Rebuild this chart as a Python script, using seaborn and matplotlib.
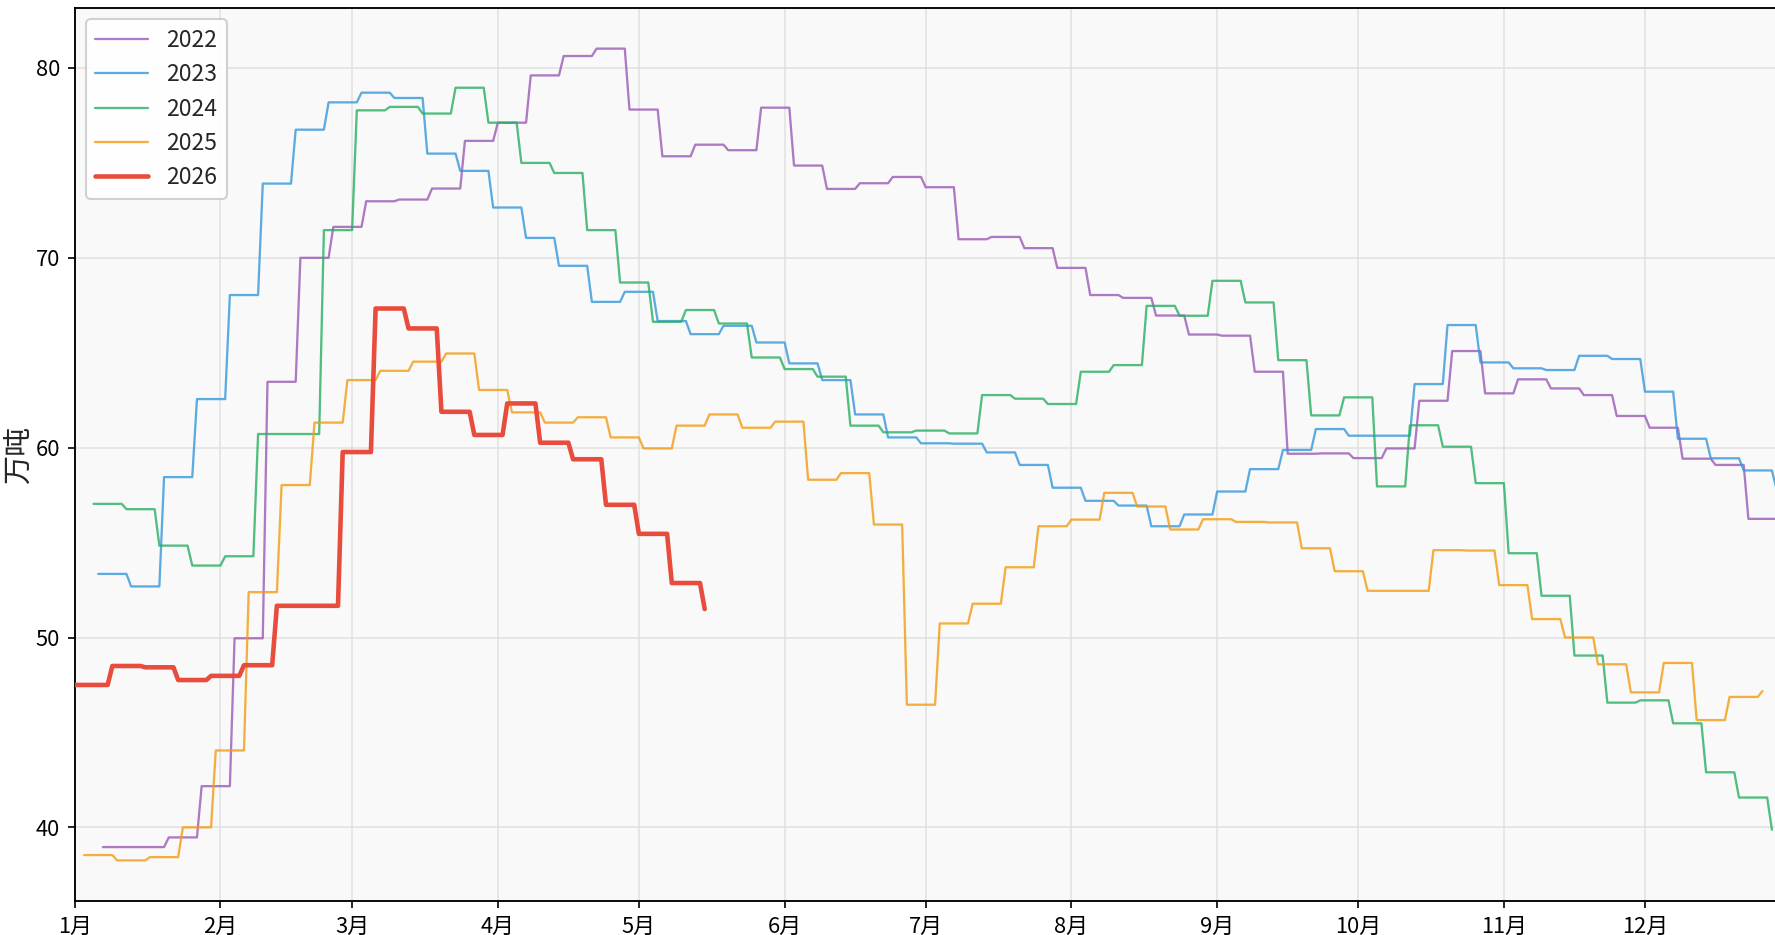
import numpy as np
import pandas as pd
import matplotlib
matplotlib.use('Agg')
import matplotlib.pyplot as plt
import matplotlib.dates as mdates
import matplotlib.ticker as mticker
import seaborn as sns

# weekly values (万吨), each year mapped onto a common calendar (2001)
years = [2022, 2023, 2024, 2025, 2026]

week_start = {2022: '2001-01-07', 2023: '2001-01-06', 2024: '2001-01-05',
              2025: '2001-01-03', 2026: '2001-01-02'}
first_day = {2026: '2001-01-01'}

v2022 = [38.96, 38.96, 39.47, 42.17, 49.96, 63.47, 70.0, 71.63, 72.98, 73.07,
         73.65, 76.16, 77.12, 79.61, 80.63, 81.02, 77.81, 75.35, 75.96, 75.67,
         77.91, 74.86, 73.63, 73.93, 74.26, 73.72, 70.98, 71.1, 70.51, 69.47,
         68.04, 67.89, 66.96, 65.96, 65.9, 64.0, 59.68, 59.7, 59.45, 59.96,
         62.47, 65.09, 62.86, 63.6, 63.12, 62.77, 61.67, 61.05, 59.42, 59.09,
         56.25, 55.0]
v2023 = [53.35, 52.69, 58.45, 62.56, 68.04, 73.91, 76.75, 78.19, 78.70, 78.42,
         75.49, 74.58, 72.65, 71.05, 69.58, 67.68, 68.21, 66.67, 65.98, 66.42,
         65.54, 64.44, 63.56, 61.75, 60.54, 60.23, 60.21, 59.75, 59.09, 57.89,
         57.2, 56.95, 55.86, 56.48, 57.69, 58.87, 59.88, 60.98, 60.63, 60.63,
         63.35, 66.46, 64.49, 64.18, 64.09, 64.84, 64.67, 62.95, 60.47, 59.44,
         58.80, 57.8]
v2024 = [57.04, 56.76, 54.84, 53.79, 54.28, 60.72, 60.72, 71.46, 77.77, 77.95,
         77.6, 78.96, 77.12, 75.0, 74.47, 71.46, 68.70, 66.63, 67.25, 66.54,
         64.75, 64.14, 63.74, 61.16, 60.81, 60.9, 60.75, 62.77, 62.58, 62.30,
         64.0, 64.35, 67.47, 66.95, 68.79, 67.65, 64.61, 61.70, 62.65, 57.96,
         61.18, 60.05, 58.13, 54.44, 52.20, 49.05, 46.57, 46.69, 45.48, 42.90,
         41.57, 39.88]
v2025 = [38.54, 38.26, 38.43, 40.0, 44.05, 52.39, 58.03, 61.32, 63.56, 64.05,
         64.53, 64.96, 63.04, 61.86, 61.32, 61.6, 60.54, 59.96, 61.16, 61.75,
         61.05, 61.37, 58.31, 58.66, 55.95, 46.46, 50.74, 51.78, 53.70, 55.86,
         56.21, 57.62, 56.90, 55.69, 56.23, 56.09, 56.06, 54.70, 53.49, 52.46,
         52.46, 54.60, 54.58, 52.76, 50.97, 50.0, 48.59, 47.11, 48.66, 45.65,
         46.87, 47.18]
v2026 = [47.5, 48.5, 48.43, 47.76, 47.98, 48.54, 51.67, 51.67, 59.77, 67.33,
         66.28, 61.89, 60.67, 62.33, 60.26, 59.39, 56.99, 55.46, 52.87, 51.50]

values = {2022: v2022, 2023: v2023, 2024: v2024, 2025: v2025, 2026: v2026}

colors = {2022: '#9b59b6', 2023: '#3498db', 2024: '#27ae60',
          2025: '#f39c12', 2026: '#e74c3c'}


def daily_series(year):
    """Weekly figures held flat until the next release."""
    vals = values[year]
    weekly = pd.Series(vals, index=pd.date_range(week_start[year], periods=len(vals), freq='7D'))
    days = pd.date_range(first_day.get(year, week_start[year]), weekly.index[-1], freq='D')
    s = weekly.reindex(days).ffill().bfill()
    return pd.DataFrame({'date': s.index, 'value': s.values, 'year': str(year)})


df = pd.concat([daily_series(y) for y in years], ignore_index=True)

sns.set_theme(style='ticks')
plt.rcParams['font.family'] = ['Noto Sans CJK SC', 'DejaVu Sans']
plt.rcParams['axes.unicode_minus'] = False

fig = plt.figure(figsize=(1775 / 150, 935 / 150), dpi=150)
ax = fig.add_axes([0.0421, 0.0364, 0.9641, 0.955])
ax.set_facecolor('#f9f9f9')

for y in years:
    sub = df[df['year'] == str(y)]
    last = y == 2026
    sns.lineplot(data=sub, x='date', y='value', ax=ax, color=colors[y],
                 linewidth=2.2 if last else 1.1, alpha=1.0 if last else 0.8,
                 label=str(y), zorder=3 if last else 2)

ax.set_xlim(pd.Timestamp('2001-01-01'), pd.Timestamp('2001-12-31'))
ax.yaxis.set_major_locator(mticker.MultipleLocator(10))
ax.xaxis.set_major_locator(mdates.MonthLocator())
ax.xaxis.set_major_formatter(
    mticker.FuncFormatter(lambda x, pos: f"{mdates.num2date(x).month}月"))

ax.grid(True, color='#dddddd', linewidth=0.8, alpha=0.8)
ax.set_axisbelow(True)
for sp in ax.spines.values():
    sp.set_color('black')
    sp.set_linewidth(0.9)
ax.tick_params(labelsize=10.5, length=3.5, width=0.8, colors='black')

ax.set_xlabel('')
ax.set_ylabel('万吨', fontsize=14)
ax.yaxis.set_label_coords(-0.024, 0.5)

leg = ax.legend(loc='upper left', fontsize=11, handlelength=2.3, frameon=True,
                fancybox=True, framealpha=0.9, edgecolor='#cccccc')
leg.get_frame().set_facecolor('white')

fig.savefig('out.png', dpi=150, facecolor='white')
